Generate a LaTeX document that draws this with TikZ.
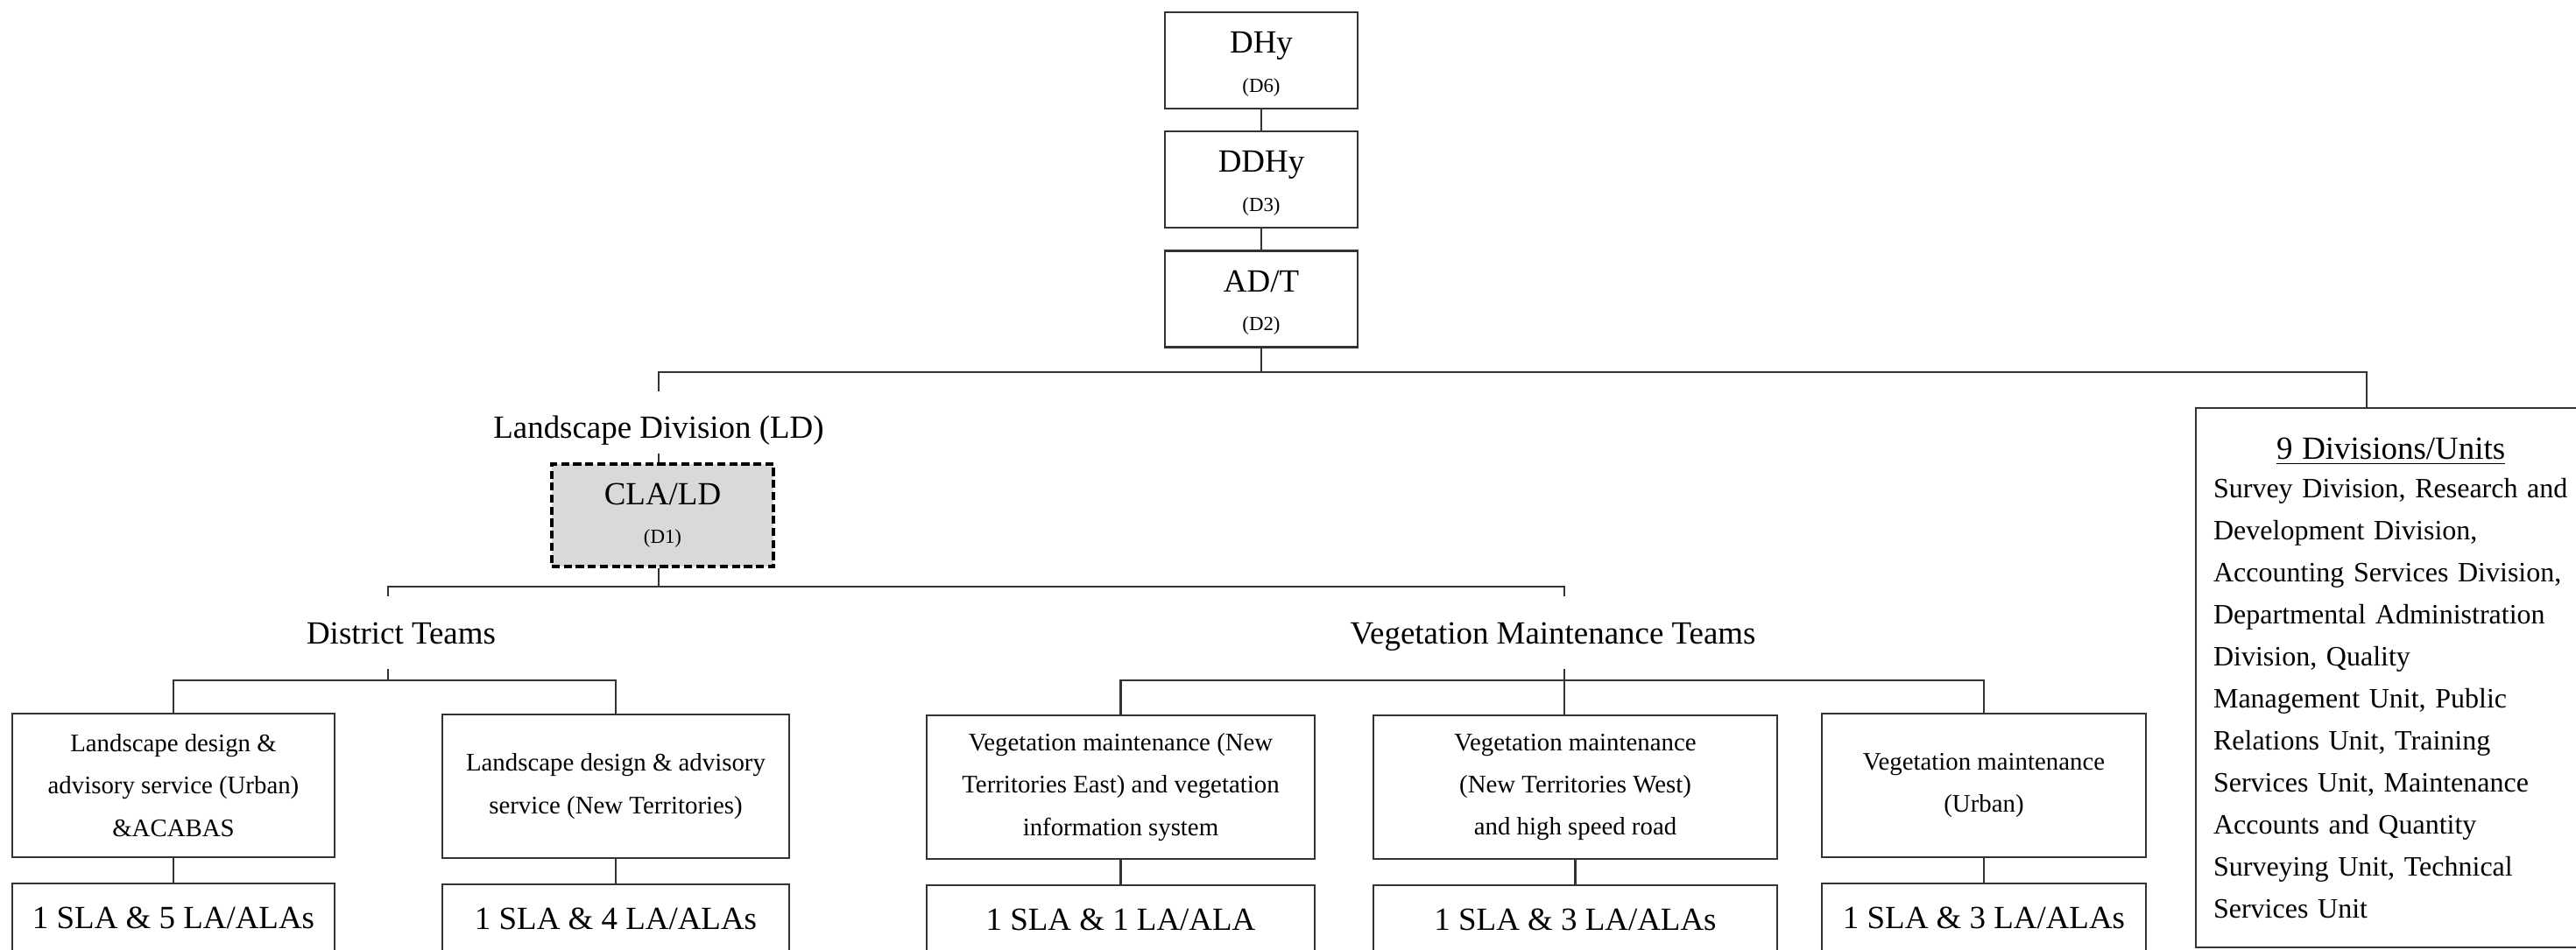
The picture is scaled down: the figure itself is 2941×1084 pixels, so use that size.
\documentclass[tikz,border=0pt]{standalone}
\usepackage{fontspec}
\setmainfont{Liberation Serif}
\newcommand{\gradetag}[1]{{\fontsize{6.5}{8}\selectfont (#1)}}
\begin{document}
\begin{tikzpicture}[x=0.01cm, y=-0.01cm,
  link/.style={draw=black!80, line width=0.6pt},
  post/.style={draw=black!80, line width=0.6pt, align=center, inner sep=0,
    minimum width=2.2cm, minimum height=1.1cm, font=\fontsize{10.5}{12.6}\selectfont},
  head/.style={inner sep=0.08cm, text height=0.45cm, text depth=0.2cm,
    font=\fontsize{10.5}{12.6}\selectfont},
  team/.style={draw=black!80, line width=0.6pt, align=center, inner sep=0,
    minimum height=1.64cm, font=\fontsize{8.2}{13.7}\selectfont},
  staff/.style={draw=black!80, line width=0.6pt, inner sep=0, inner ysep=0.26cm,
    text height=0.25cm, text depth=0.5cm, anchor=north, font=\fontsize{10.5}{12.6}\selectfont},
  divlist/.style={draw=black!80, line width=0.6pt, anchor=north west, align=left,
    text width=4.05cm, inner xsep=0.2cm, inner ysep=0.335cm, font=\fontsize{9.1}{13.66}\selectfont}]
\useasboundingbox (0,0) rectangle (2941,1084);

% directorate
\node [post] (dhy) at (1440,69) {\rule{0pt}{0.33cm}DHy\\\gradetag{D6}};
\node [post] (ddhy) at (1440,205) {\rule{0pt}{0.33cm}DDHy\\\gradetag{D3}};
\node [post] (adt) at (1440,341.5) {\rule{0pt}{0.33cm}AD/T\\\gradetag{D2}};

% landscape division
\node [head, text height=0.44cm, text depth=0.09cm, anchor=base] (ld) at (752,500) {Landscape Division (LD)};
\node [post, minimum width=2.53cm, minimum height=1.17cm, fill=black!15, draw=black, line width=1pt,
  dash pattern=on 2.6pt off 1.3pt] (cla) at (756.5,588.5) {CLA/LD\\\gradetag{D1}};
\node [head, anchor=base] (dt) at (458,735) {District Teams};
\node [head, anchor=base] (vmt) at (1773,735) {Vegetation Maintenance Teams};

\node [team, minimum width=3.68cm] (b1) at (198,897) {Landscape design \&\\advisory service (Urban)\\\&ACABAS};
\node [team, minimum width=3.95cm] (b2) at (703,898) {Landscape design \& advisory\\service (New Territories)};
\node [team, minimum width=4.43cm] (b3) at (1279.5,899) {Vegetation maintenance (New\\Territories East) and vegetation\\information system};
\node [team, minimum width=4.61cm] (b4) at (1798.5,899) {Vegetation maintenance\\(New Territories West)\\and high speed road};
\node [team, minimum width=3.70cm] (b5) at (2265,897) {Vegetation maintenance\\(Urban)};

\node [staff, minimum width=3.68cm] (c1) at ([yshift=-0.28cm]b1.south) {1 SLA \& 5 LA/ALAs};
\node [staff, minimum width=3.95cm] (c2) at ([yshift=-0.28cm]b2.south) {1 SLA \& 4 LA/ALAs};
\node [staff, minimum width=4.43cm] (c3) at ([yshift=-0.28cm]b3.south) {1 SLA \& 1 LA/ALA};
\node [staff, minimum width=4.61cm] (c4) at ([yshift=-0.28cm]b4.south) {1 SLA \& 3 LA/ALAs};
\node [staff, minimum width=3.70cm] (c5) at ([yshift=-0.28cm]b5.south) {1 SLA \& 3 LA/ALAs};

% other divisions
\node [divlist] (divs) at (2506,465) {\makebox[4.05cm]{\fontsize{10.5}{12.6}\selectfont\underline{9 Divisions/Units}}\\[-0.04cm]
Survey Division, Research and\\
Development Division,\\
Accounting Services Division,\\
Departmental Administration\\
Division, Quality\\
Management Unit, Public\\
Relations Unit, Training\\
Services Unit, Maintenance\\
Accounts and Quantity\\
Surveying Unit, Technical\\
Services Unit};

% connectors
\coordinate (tr) at (2702,425);
\draw [link] (dhy) -- (ddhy);
\draw [link] (ddhy) -- (adt);
\draw [link] (adt.south) |- (tr) -- (tr |- divs.north);
\draw [link] (adt.south |- tr) -| (ld.north);
\draw [link] (ld) -- (ld |- cla.north);
\draw [link] (cla.south -| ld) -- ++(0,21) coordinate (ldbar) -| ([xshift=-0.15cm]dt.north);
\draw [link] (ldbar) -| ([xshift=0.13cm]vmt.north);
\draw [link] ([xshift=-0.15cm]dt.south) -- ++(0,13) coordinate (dtbar) -| (b1.north);
\draw [link] (dtbar) -| (b2.north);
\draw [link] ([xshift=0.13cm]vmt.south) -- ++(0,13) coordinate (vmtbar) -| (b3.north);
\draw [link] (vmtbar) -| (b5.north);
\draw [link] (vmtbar) -- (vmtbar |- b4.north);
\foreach \i in {1,...,5} \draw [link] (b\i) -- (c\i);
\end{tikzpicture}
\end{document}
